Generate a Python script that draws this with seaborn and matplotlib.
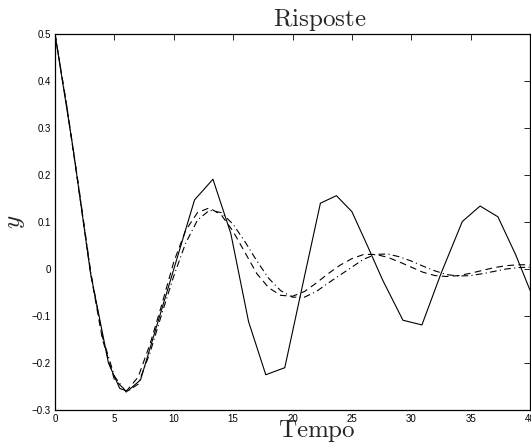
import numpy as np
import pandas as pd
import seaborn as sns
import matplotlib.pyplot as plt

# solid line vertices (coarse simulation)
t_solid = [0.0, 1.5, 3.0, 4.5, 5.45, 6.1, 7.2, 8.9, 10.4, 11.75, 13.3, 14.8,
           16.3, 17.75, 19.35, 20.8, 22.35, 23.7, 25.0, 26.3, 27.6, 29.3, 30.9,
           32.5, 34.3, 35.8, 37.3, 38.8, 40.0]
y_solid = [0.5, 0.26, -0.01, -0.2, -0.254, -0.26, -0.236, -0.093, 0.033, 0.147,
           0.191, 0.076, -0.112, -0.225, -0.21, -0.04, 0.14, 0.156, 0.122, 0.05,
           -0.024, -0.109, -0.119, -0.01, 0.101, 0.134, 0.111, 0.03, -0.045]

# smooth responses
t_fine = list(range(41))
y_dash = [0.5, 0.345, 0.17, -0.01, -0.15, -0.235, -0.26, -0.23, -0.16, -0.075,
          0.015, 0.082, 0.12, 0.13, 0.115, 0.08, 0.035, -0.01, -0.04, -0.056,
          -0.058, -0.048, -0.03, -0.01, 0.008, 0.022, 0.031, 0.031, 0.025, 0.015,
          0.004, -0.007, -0.014, -0.016, -0.014, -0.009, -0.003, 0.003, 0.007,
          0.009, 0.009]
y_dashdot = [0.5, 0.345, 0.175, -0.005, -0.145, -0.228, -0.262, -0.245, -0.178, -0.095,
             -0.015, 0.055, 0.104, 0.125, 0.12, 0.095, 0.058, 0.017, -0.02, -0.046,
             -0.06, -0.06, -0.048, -0.03, -0.013, 0.004, 0.021, 0.031, 0.032,
             0.026, 0.017, 0.006, -0.004, -0.012, -0.015, -0.014, -0.01, -0.005,
             0.0, 0.003, 0.004]

x_ticks = [0, 5, 10, 15, 20, 25, 30, 35, 40]
y_ticks = [-0.3, -0.2, -0.1, 0.0, 0.1, 0.2, 0.3, 0.4, 0.5]
y_tick_labels = ['\u22120.3', '\u22120.2', '\u22120.1', '0', '0.1', '0.2', '0.3', '0.4', '0.5']

sns.set_style('white')
plt.rcParams['font.family'] = ['Liberation Sans', 'DejaVu Sans']
plt.rcParams['mathtext.fontset'] = 'cm'

fig = plt.figure(figsize=(5.31, 4.42), dpi=100)
ax = fig.add_axes([0.1036, 0.0724, 0.8945, 0.8507])

sns.lineplot(x=t_solid, y=y_solid, color='black', linewidth=0.8, ax=ax)
sns.lineplot(x=t_fine, y=y_dash, color='black', linewidth=0.8,
             linestyle=(0, (6, 4)), ax=ax)
sns.lineplot(x=t_fine, y=y_dashdot, color='black', linewidth=0.8,
             linestyle=(0, (6, 3, 1, 3)), ax=ax)

ax.set_xlim(0, 40)
ax.set_ylim(-0.3, 0.5)
ax.set_xticks(x_ticks)
ax.set_yticks(y_ticks)
ax.set_yticklabels(y_tick_labels)
ax.tick_params(direction='in', top=True, right=True, length=4, width=0.6,
               labelsize=7, pad=3, colors='black')
for s in ax.spines.values():
    s.set_linewidth(0.9)
    s.set_color('black')

ax.set_title(r'$\mathrm{Risposte}$', fontsize=18, x=0.558, y=1.0213, pad=0)
ax.set_xlabel(r'$\mathrm{Tempo}$', fontsize=18)
ax.xaxis.set_label_coords(0.5505, -0.0718)
ax.xaxis.label.set_va('baseline')
ax.set_ylabel(r'$y$', fontsize=18)
ax.yaxis.set_label_coords(-0.059, 0.5)

fig.savefig('out.png', dpi=100)
